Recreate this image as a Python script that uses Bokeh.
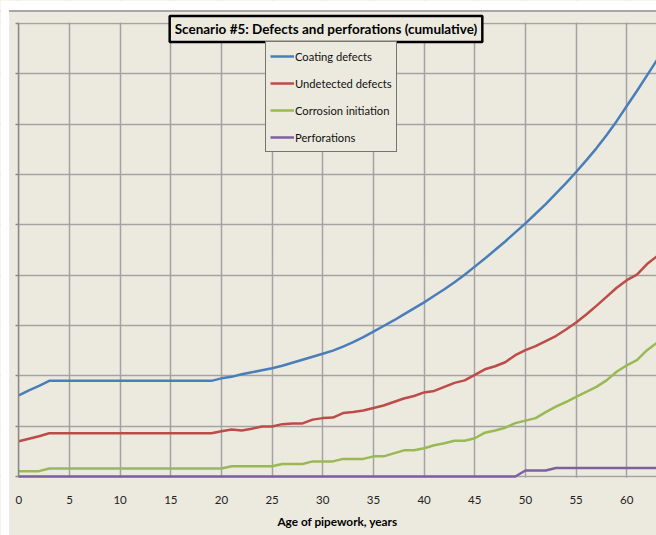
from bokeh.plotting import figure
from bokeh.models import (ColumnDataSource, Legend, LegendItem, Label, Span, FixedTicker,
                          Range1d, BoxAnnotation)
from bokeh.embed import file_html
from bokeh.resources import INLINE

title_text = "Scenario #5: Defects and perforations (cumulative)"
x_label = "Age of pipework, years"
series_names = ["Coating defects", "Undetected defects", "Corrosion initiation", "Perforations"]

years = list(range(0, 64))

coating = [16.1, 17.1, 18.0, 19.0, 19.0, 19.0, 19.0, 19.0, 19.0, 19.0,
           19.0, 19.0, 19.0, 19.0, 19.0, 19.0, 19.0, 19.0, 19.0, 19.0,
           19.5, 19.8, 20.3, 20.7, 21.1, 21.5, 22.0, 22.6, 23.2, 23.8,
           24.4, 25.0, 25.8, 26.7, 27.7, 28.8, 29.9, 31.0, 32.2, 33.4,
           34.6, 35.9, 37.2, 38.6, 40.1, 41.7, 43.3, 45.0, 46.7, 48.5,
           50.3, 52.2, 54.1, 56.2, 58.3, 60.5, 62.8, 65.2, 67.8, 70.6,
           73.6, 76.6, 79.7, 82.8]

undetected = [7.0, 7.5, 8.0, 8.6, 8.6, 8.6, 8.6, 8.6, 8.6, 8.6,
              8.6, 8.6, 8.6, 8.6, 8.6, 8.6, 8.6, 8.6, 8.6, 8.6,
              9.0, 9.35, 9.15, 9.5, 9.95, 9.95, 10.4, 10.55, 10.55, 11.3,
              11.6, 11.7, 12.6, 12.8, 13.1, 13.6, 14.1, 14.8, 15.5, 16.0,
              16.7, 17.0, 17.8, 18.6, 19.1, 20.2, 21.3, 21.9, 22.7, 24.1,
              25.1, 25.9, 26.9, 27.9, 29.2, 30.6, 32.2, 33.9, 35.7, 37.5,
              39.0, 40.1, 42.2, 43.8]

corrosion = [1.06, 1.06, 1.06, 1.6, 1.6, 1.6, 1.6, 1.6, 1.6, 1.6,
             1.6, 1.6, 1.6, 1.6, 1.6, 1.6, 1.6, 1.6, 1.6, 1.6,
             1.6, 2.05, 2.05, 2.05, 2.05, 2.05, 2.5, 2.5, 2.5, 3.0,
             3.0, 3.0, 3.5, 3.5, 3.5, 4.0, 4.0, 4.6, 5.2, 5.2,
             5.6, 6.2, 6.6, 7.1, 7.1, 7.6, 8.7, 9.15, 9.7, 10.6,
             11.1, 11.6, 12.8, 13.9, 14.8, 15.8, 16.8, 17.8, 19.1, 20.8,
             22.1, 23.1, 25.1, 26.6]

perforations = [0, 0, 0, 0, 0, 0, 0, 0, 0, 0,
                0, 0, 0, 0, 0, 0, 0, 0, 0, 0,
                0, 0, 0, 0, 0, 0, 0, 0, 0, 0,
                0, 0, 0, 0, 0, 0, 0, 0, 0, 0,
                0, 0, 0, 0, 0, 0, 0, 0, 0, 0,
                1.2, 1.2, 1.2, 1.7, 1.7, 1.7, 1.7, 1.7, 1.7, 1.7,
                1.7, 1.7, 1.7, 1.7]

x_ticks = [0, 5, 10, 15, 20, 25, 30, 35, 40, 45, 50, 55, 60]
y_ticks = [0, 10, 20, 30, 40, 50, 60, 70, 80, 90]

colors = ["#4A7EBB", "#BE4B48", "#98B954", "#7D60A0"]
BG = "#ECEADF"
GRID = "#A3A3A3"
AXIS = "#8A8A8A"
FONT = "Lato"

# ---- layout geometry (pixels) ----
W, H = 656, 535
X0_PX, PX_PER_X = 18.3, 10.133        # where x=0 falls, pixels per year
Y0_PX, PX_PER_Y = 476.0, 453.0 / 90.0  # where y=0 falls, pixels per unit


def px_x(px):
    return (px - X0_PX) / PX_PER_X


def px_y(py):
    return (Y0_PX - py) / PX_PER_Y


source = ColumnDataSource(dict(year=years, coating=coating, undetected=undetected,
                               corrosion=corrosion, perforations=perforations))

p = figure(width=W, height=H, output_backend="svg", toolbar_location=None,
           x_range=Range1d(px_x(0), px_x(W)), y_range=Range1d(px_y(H), px_y(0)),
           min_border=0, min_border_left=0, min_border_right=0,
           min_border_top=0, min_border_bottom=0)
p.background_fill_color = BG
p.border_fill_color = BG
p.outline_line_color = None

p.xaxis.ticker = FixedTicker(ticks=x_ticks)
p.yaxis.ticker = FixedTicker(ticks=y_ticks)
p.xgrid.grid_line_color = GRID
p.ygrid.grid_line_color = GRID
p.xgrid.grid_line_width = 1.5
p.ygrid.grid_line_width = 1.5

# masks that trim the grid to the plot area
for kw in (dict(top=px_y(Y0_PX + 1.2)), dict(bottom=px_y(22.0)), dict(right=px_x(X0_PX - 0.8))):
    p.add_layout(BoxAnnotation(fill_color=BG, fill_alpha=1.0, line_color=None, level="underlay", **kw))

# white page edge and thin chart border line at top
p.add_layout(BoxAnnotation(bottom=px_y(9.5), fill_color="white", fill_alpha=1.0,
                           line_color=None, level="underlay"))
p.add_layout(Span(location=px_y(10.5), dimension="width", line_color="#A6A6A6",
                  line_width=2, level="underlay"))
p.add_layout(BoxAnnotation(right=px_x(8.5), fill_color="white", fill_alpha=1.0,
                           line_color=None, level="underlay"))

p.xaxis.fixed_location = 0
p.xaxis.axis_line_color = None
p.xaxis.major_tick_line_color = None
p.xaxis.minor_tick_line_color = None
p.xaxis.major_label_text_font = FONT
p.xaxis.major_label_text_font_size = "11.5px"
p.xaxis.major_label_text_color = "#222222"
p.xaxis.major_label_standoff = 13

p.yaxis.fixed_location = 0
p.yaxis.bounds = (0, 90)
p.yaxis.axis_line_color = AXIS
p.yaxis.axis_line_width = 1.5
p.yaxis.major_tick_line_color = AXIS
p.yaxis.major_tick_line_width = 1.5
p.yaxis.major_tick_out = 3
p.yaxis.major_tick_in = 0
p.yaxis.minor_tick_line_color = None
p.yaxis.major_label_text_color = None
p.yaxis.major_label_standoff = 0

keys = ["coating", "undetected", "corrosion", "perforations"]
renderers = []
for k, c in zip(keys, colors):
    r = p.line("year", k, source=source, line_color=c, line_width=2.5)
    renderers.append(r)

legend = Legend(items=[LegendItem(label=n, renderers=[r]) for n, r in zip(series_names, renderers)],
                location=(265, H - 152))
legend.background_fill_color = BG
legend.background_fill_alpha = 1.0
legend.border_line_color = "black"
legend.border_line_width = 1.5
legend.padding = 4
legend.margin = 0
legend.spacing = 7
legend.glyph_width = 24
legend.glyph_height = 20
legend.label_height = 20
legend.label_standoff = 1
legend.label_text_font = FONT
legend.label_text_font_size = "11.2px"
legend.label_text_color = "#111111"
p.add_layout(legend)

title = Label(x=325.5, y=H - 28.5, x_units="screen", y_units="screen", text=title_text,
              text_font=FONT, text_font_style="bold", text_font_size="13.5px",
              text_align="center", text_baseline="middle", text_color="black",
              background_fill_color=BG, border_line_color="black", border_line_width=2.5,
              padding=5)
p.add_layout(title)

xlab = Label(x=337, y=H - 521, x_units="screen", y_units="screen", text=x_label,
             text_font=FONT, text_font_style="bold", text_font_size="11.8px",
             text_align="center", text_baseline="middle", text_color="black")
p.add_layout(xlab)

open("out.html", "w").write(file_html(p, INLINE))
